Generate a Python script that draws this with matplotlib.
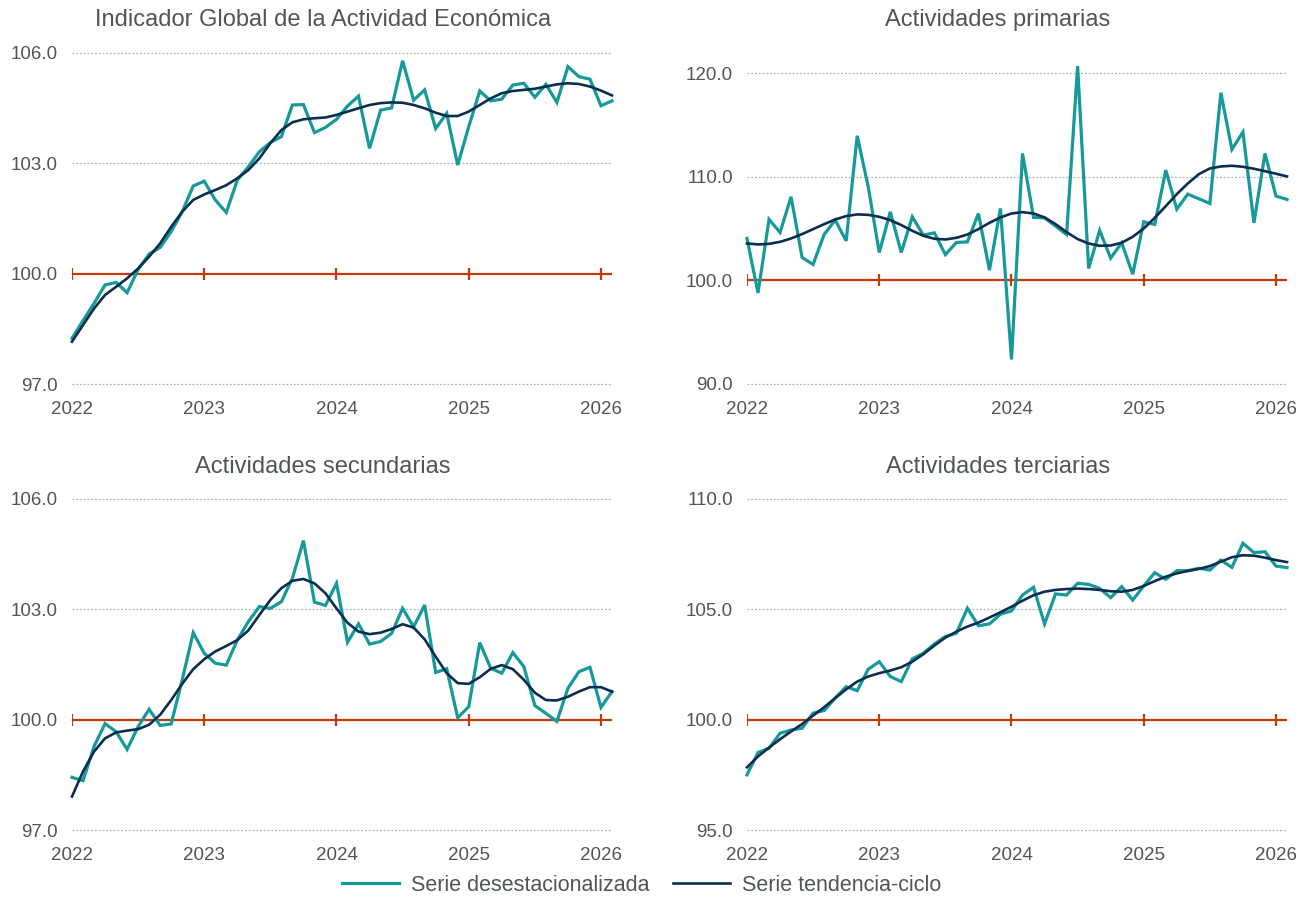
import matplotlib
matplotlib.use("Agg")
import matplotlib.pyplot as plt
import numpy as np

plt.rcParams['font.family'] = ['Liberation Sans', 'DejaVu Sans']

years = ["2022", "2023", "2024", "2025", "2026"]
n_months = 50  # Jan 2022 .. Feb 2026

titles = ["Indicador Global de la Actividad Económica", "Actividades primarias",
          "Actividades secundarias", "Actividades terciarias"]

igae_des = [98.24, 98.72, 99.19, 99.69, 99.76, 99.48, 100.11, 100.53, 100.71, 101.14,
            101.68, 102.38, 102.51, 102.0, 101.66, 102.54, 102.9, 103.31, 103.56, 103.72,
            104.58, 104.59, 103.83, 103.97, 104.19, 104.55, 104.82, 103.4, 104.44, 104.5,
            105.78, 104.71, 104.99, 103.94, 104.35, 102.95, 103.99, 104.96, 104.69, 104.74,
            105.12, 105.17, 104.79, 105.14, 104.65, 105.62, 105.35, 105.28, 104.56, 104.69]
igae_tc = [98.15, 98.6, 99.05, 99.42, 99.64, 99.87, 100.14, 100.46, 100.82, 101.27,
           101.68, 102.0, 102.15, 102.27, 102.4, 102.59, 102.81, 103.13, 103.54, 103.9,
           104.11, 104.19, 104.22, 104.24, 104.31, 104.4, 104.49, 104.58, 104.63, 104.65,
           104.64, 104.58, 104.49, 104.37, 104.28, 104.28, 104.4, 104.58, 104.76, 104.9,
           104.96, 104.99, 105.02, 105.08, 105.14, 105.17, 105.15, 105.08, 104.97, 104.84]

prim_des = [104.06, 98.8, 105.9, 104.64, 108.08, 102.22, 101.55, 104.44, 105.83, 103.83,
            113.98, 109.05, 102.7, 106.63, 102.7, 106.15, 104.38, 104.6, 102.5, 103.67,
            103.73, 106.47, 101.0, 106.96, 92.37, 112.27, 106.09, 106.05, 105.25, 104.44,
            120.7, 101.16, 104.83, 102.16, 103.64, 100.61, 105.67, 105.41, 110.66, 106.89,
            108.34, 107.89, 107.44, 118.13, 112.66, 114.33, 105.57, 112.27, 108.15, 107.83]
prim_tc = [103.57, 103.48, 103.54, 103.73, 104.06, 104.48, 104.96, 105.44, 105.89, 106.22,
           106.38, 106.34, 106.15, 105.83, 105.35, 104.8, 104.32, 104.03, 103.96, 104.12,
           104.44, 104.96, 105.57, 106.09, 106.47, 106.6, 106.47, 106.09, 105.44, 104.67,
           104.0, 103.57, 103.35, 103.38, 103.64, 104.22, 105.02, 106.05, 107.18, 108.34,
           109.37, 110.27, 110.82, 111.01, 111.08, 110.98, 110.79, 110.56, 110.31, 110.05]

sec_des = [98.43, 98.34, 99.27, 99.89, 99.67, 99.19, 99.81, 100.28, 99.84, 99.88,
           101.08, 102.36, 101.8, 101.53, 101.48, 102.16, 102.66, 103.07, 103.02, 103.2,
           103.84, 104.86, 103.19, 103.1, 103.7, 102.1, 102.6, 102.05, 102.12, 102.34,
           103.02, 102.52, 103.11, 101.28, 101.38, 100.05, 100.35, 102.09, 101.39, 101.26,
           101.82, 101.44, 100.38, 100.17, 99.95, 100.85, 101.3, 101.42, 100.33, 100.76]
sec_tc = [97.91, 98.59, 99.13, 99.49, 99.65, 99.7, 99.74, 99.86, 100.13, 100.53,
          100.97, 101.37, 101.64, 101.85, 102.0, 102.16, 102.42, 102.84, 103.25, 103.57,
          103.77, 103.82, 103.7, 103.43, 103.02, 102.63, 102.39, 102.32, 102.36, 102.46,
          102.59, 102.5, 102.18, 101.71, 101.26, 100.99, 100.97, 101.15, 101.38, 101.48,
          101.37, 101.08, 100.73, 100.53, 100.52, 100.62, 100.76, 100.88, 100.88, 100.76]

ter_des = [97.5, 98.51, 98.7, 99.38, 99.53, 99.61, 100.29, 100.41, 100.97, 101.49,
           101.31, 102.28, 102.62, 101.95, 101.72, 102.75, 103.0, 103.42, 103.76, 103.91,
           105.04, 104.25, 104.33, 104.77, 104.92, 105.64, 105.99, 104.33, 105.69, 105.64,
           106.17, 106.12, 105.94, 105.52, 106.02, 105.41, 106.05, 106.65, 106.35, 106.74,
           106.74, 106.85, 106.77, 107.22, 106.89, 107.98, 107.56, 107.6, 106.95, 106.88]
ter_tc = [97.84, 98.33, 98.73, 99.11, 99.46, 99.8, 100.18, 100.56, 100.97, 101.37,
          101.72, 101.95, 102.1, 102.22, 102.37, 102.62, 102.96, 103.35, 103.71, 103.98,
          104.21, 104.39, 104.62, 104.86, 105.11, 105.38, 105.63, 105.79, 105.87, 105.91,
          105.93, 105.91, 105.87, 105.81, 105.79, 105.87, 106.05, 106.27, 106.47, 106.62,
          106.73, 106.82, 106.95, 107.15, 107.35, 107.44, 107.42, 107.33, 107.22, 107.13]

yticks_list = [[97, 100, 103, 106], [90, 100, 110, 120], [97, 100, 103, 106], [95, 100, 105, 110]]
ylims = [(97, 106), (90, 122), (97, 106), (95, 110)]
des_list = [igae_des, prim_des, sec_des, ter_des]
tc_list = [igae_tc, prim_tc, sec_tc, ter_tc]

TEAL = "#16999a"
NAVY = "#0c2d50"
RED = "#c23a0c"
TXT = "#50555c"
GRID = "#aeb3ba"

W, H = 1307, 897
fig = plt.figure(figsize=(W / 100, H / 100), dpi=100)

# axes boxes in pixels: (left, top, right, bottom)
boxes = [(72, 52.7, 612, 384), (747, 52.7, 1287, 384),
         (72, 498.7, 612, 830), (747, 498.7, 1287, 830)]
title_pos = [(323, 20), (998, 20), (323, 467), (998, 467)]

x = np.arange(n_months)
year_pos = np.arange(0, n_months, 12)

for k in range(4):
    l, t, r, b = boxes[k]
    ax = fig.add_axes([l / W, 1 - b / H, (r - l) / W, (b - t) / H])
    ax.set_xlim(0, n_months - 1)
    ax.set_ylim(*ylims[k])
    for s in ax.spines.values():
        s.set_visible(False)
    ax.set_yticks(yticks_list[k])
    ax.set_yticklabels([f"{v:.1f}" for v in yticks_list[k]])
    ax.set_xticks(year_pos)
    ax.set_xticklabels(years)
    ax.tick_params(axis='both', length=0, labelsize=13.5, labelcolor=TXT)
    ax.tick_params(axis='y', pad=10)
    ax.tick_params(axis='x', pad=12)
    for v in yticks_list[k]:
        if v != 100:
            ax.axhline(v, color=GRID, lw=0.9, ls=(0, (1.5, 1.5)), zorder=1, clip_on=False)
    ax.axhline(100, color=RED, lw=1.6, zorder=2)
    ax.plot(year_pos, [100] * len(year_pos), ls='none', marker='|', ms=9, mew=1.6,
            color=RED, zorder=2)
    ax.plot(x, des_list[k], color=TEAL, lw=2.3, zorder=3, solid_joinstyle='miter',
            label="Serie desestacionalizada", clip_on=False)
    ax.plot(x, tc_list[k], color=NAVY, lw=1.9, zorder=4, label="Serie tendencia-ciclo",
            clip_on=False)
    tx, ty = title_pos[k]
    fig.text(tx / W, 1 - ty / H, titles[k], ha='center', va='center', fontsize=17,
             color=TXT)
    if k == 0:
        handles, labels = ax.get_legend_handles_labels()

fig.legend(handles, labels, loc='center', bbox_to_anchor=(641.5 / W, 1 - 885 / H),
           ncol=2, frameon=False, fontsize=15.5, labelcolor=TXT, handlelength=2.65,
           handletextpad=0.55, columnspacing=1.1)

fig.savefig("out.png", dpi=100, facecolor="white")
